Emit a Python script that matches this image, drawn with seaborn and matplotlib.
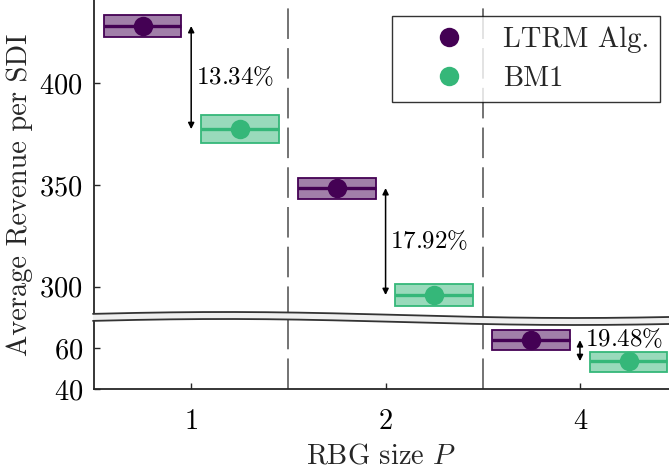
import numpy as np
import pandas as pd
import matplotlib
matplotlib.use("Agg")
import matplotlib.pyplot as plt
import seaborn as sb
from matplotlib.colors import to_rgba
from matplotlib.patches import Polygon
from matplotlib.lines import Line2D

# values (box = q1 / median / q3)
sizes = ["1", "2", "4"]
methods = ["LTRM Alg.", "BM1"]
ltrm_low = [422.8, 343.1, 58.9]
ltrm_med = [428.2, 348.5, 63.8]
ltrm_high = [433.6, 353.4, 69.0]
bm1_low = [370.6, 290.5, 48.5]
bm1_med = [377.5, 295.9, 53.6]
bm1_high = [384.4, 301.3, 58.0]
gain_labels = [r"$13.34\%$", r"$17.92\%$", r"$19.48\%$"]
colors = ["#440154", "#35b779"]

sb.set_theme(style="white")
plt.rcParams["font.family"] = ["cmr10", "DejaVu Serif"]
plt.rcParams["mathtext.fontset"] = "cm"
plt.rcParams["axes.formatter.use_mathtext"] = True
plt.rcParams["axes.unicode_minus"] = False

FS = 20.5


def build_frames():
    rows, meds = [], []
    series = {methods[0]: (ltrm_low, ltrm_med, ltrm_high),
              methods[1]: (bm1_low, bm1_med, bm1_high)}
    for m, (lo, md, hi) in series.items():
        for i, s in enumerate(sizes):
            # five values whose quartiles give exactly lo / md / hi
            for v in (lo[i], lo[i], md[i], hi[i], hi[i]):
                rows.append({"P": s, "method": m, "revenue": v})
            meds.append({"P": s, "method": m, "revenue": md[i]})
    return pd.DataFrame(rows), pd.DataFrame(meds)


def draw_panel(ax, D, M, legend):
    sb.boxplot(data=D, x="P", y="revenue", hue="method", order=sizes,
               hue_order=methods, palette=colors, width=1.0, gap=0.2,
               whis=np.inf, showcaps=False, legend=False, ax=ax)
    for cont, c in zip(ax.containers, colors):
        for b in cont.boxes:
            b.set_facecolor(to_rgba(c, 0.5))
            b.set_edgecolor(c)
            b.set_linewidth(1.3)
        for l in cont.medians:
            l.set_color(c)
            l.set_linewidth(2.4)
        for l in cont.whiskers:
            l.set_visible(False)
    sb.pointplot(data=M, x="P", y="revenue", hue="method", order=sizes,
                 hue_order=methods, palette=colors, dodge=0.5,
                 linestyle="none", markers="o", markersize=14,
                 markeredgewidth=0, errorbar=None, legend=legend, ax=ax)
    for xv in (0.5, 1.5):
        ax.axvline(xv, color="#4d4d4d", lw=1.1, dashes=(20, 6), zorder=0)
    ax.set_xlim(-0.5, 2.458)
    ax.set_xlabel("")
    ax.set_ylabel("")
    for side in ("top", "right"):
        ax.spines[side].set_visible(False)
    ax.spines["left"].set_color("#262626")
    ax.spines["left"].set_linewidth(1.3)
    ax.tick_params(axis="y", direction="in", length=4, width=1,
                   labelsize=FS, pad=8, left=True, colors="#262626")
    ax.tick_params(axis="y", labelcolor="black")


def main():
    D, M = build_frames()
    fig = plt.figure(figsize=(6.69, 4.71), dpi=100)
    W, H = 669, 471
    ax_top = fig.add_axes([94 / W, 1 - 317 / H, 575 / W, 317 / H])
    ax_bot = fig.add_axes([94 / W, 1 - 389 / H, 575 / W, 72 / H])

    draw_panel(ax_top, D, M, True)
    draw_panel(ax_bot, D, M, False)

    ax_top.set_ylim(285.1, 441.0)
    ax_top.set_yticks([300, 350, 400])
    ax_top.spines["bottom"].set_visible(False)
    ax_top.tick_params(axis="x", bottom=False, labelbottom=False)

    ax_bot.set_ylim(40, 75.1)
    ax_bot.set_yticks([40, 60])
    ax_bot.spines["bottom"].set_color("#262626")
    ax_bot.spines["bottom"].set_linewidth(1.3)
    ax_bot.tick_params(axis="x", direction="in", length=4, width=1,
                       labelsize=FS, pad=14, bottom=True, colors="#262626")
    ax_bot.tick_params(axis="x", labelcolor="black")
    ax_bot.set_xlabel("RBG size $P$", fontsize=FS, labelpad=6)

    # difference arrows + labels
    for i in range(3):
        ax = ax_top if i < 2 else ax_bot
        hi, lo = ltrm_med[i], bm1_med[i]
        ax.annotate("", xy=(i, hi), xytext=(i, lo),
                    arrowprops=dict(arrowstyle="<|-|>", color="black",
                                    lw=1.1, mutation_scale=9,
                                    shrinkA=0, shrinkB=0))
        ty = (hi + lo) / 2 if i < 2 else hi + 0.5
        ax.text(i + 0.025, ty, gain_labels[i], fontsize=18, va="center",
                ha="left", color="black")

    leg = ax_top.legend(loc="upper right", bbox_to_anchor=(0.9843, 0.9495),
                        borderaxespad=0, fontsize=FS, frameon=True,
                        fancybox=False, edgecolor="black", handlelength=3.2,
                        handletextpad=0.3, labelspacing=0.42, borderpad=0.38)
    leg.get_frame().set_linewidth(1.0)

    fig.text(20 / W, 1 - 195 / H, "Average Revenue per SDI", rotation=90,
             ha="center", va="center", fontsize=FS)

    # wavy break band across the y axis
    xs = np.linspace(93, 669, 200)
    yc = 318.5 + 3 * np.sin(2 * np.pi * (xs - 400) / 700)
    half = 3.5
    top = np.column_stack([xs / W, 1 - (yc - half) / H])
    bot = np.column_stack([xs / W, 1 - (yc + half) / H])
    band = Polygon(np.vstack([top, bot[::-1]]), closed=True,
                   transform=fig.transFigure, facecolor="#efefef",
                   edgecolor="none", zorder=10)
    fig.add_artist(band)
    for edge in (top, bot):
        fig.add_artist(Line2D(edge[:, 0], edge[:, 1], color="#333333",
                              lw=1.3, transform=fig.transFigure, zorder=11))

    fig.savefig("out.png", dpi=100)


if __name__ == "__main__":
    main()
